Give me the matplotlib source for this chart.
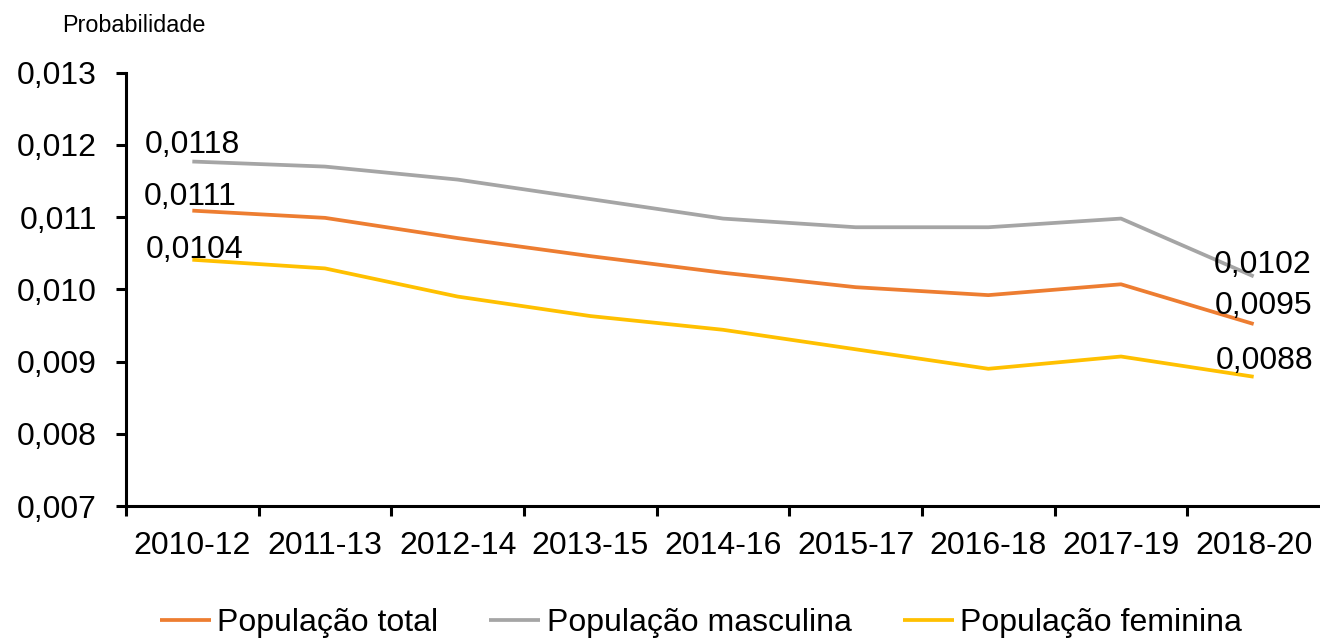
import matplotlib
matplotlib.use("Agg")
import matplotlib.pyplot as plt
from matplotlib.ticker import FixedLocator, FuncFormatter

plt.rcParams['font.family'] = ['Liberation Sans', 'DejaVu Sans']

categories = ["2010-12", "2011-13", "2012-14", "2013-15", "2014-16",
              "2015-17", "2016-18", "2017-19", "2018-20"]
total = [0.01109, 0.01099, 0.01071, 0.01046, 0.01023, 0.01003, 0.00992, 0.01007, 0.00952]
masculina = [0.01177, 0.01170, 0.01152, 0.01125, 0.01098, 0.01086, 0.01086, 0.01098, 0.01018]
feminina = [0.01041, 0.01029, 0.00990, 0.00963, 0.00944, 0.00917, 0.00890, 0.00907, 0.00879]
series_names = ["População total", "População masculina", "População feminina"]
label_total = ["0,0111", "0,0095"]
label_masc = ["0,0118", "0,0102"]
label_fem = ["0,0104", "0,0088"]
y_ticks = [0.007, 0.008, 0.009, 0.010, 0.011, 0.012, 0.013]

colors = ["#ED7D31", "#A5A5A5", "#FFC000"]
FS = 23

fig = plt.figure(figsize=(13.2, 6.39), dpi=100)
W, H = 1320, 639
ax = fig.add_axes([126 / W, 1 - 506 / H, 1 - 126 / W, (506 - 72.7) / H])

x = list(range(len(categories)))
lines = []
for vals, c, name in zip([total, masculina, feminina], colors, series_names):
    ln, = ax.plot(x, vals, color=c, lw=2.7, label=name, solid_capstyle='butt')
    lines.append(ln)

ax.set_xlim(-0.5, len(categories) - 0.5)
ax.set_ylim(y_ticks[0], y_ticks[-1])

# y axis
ax.set_yticks(y_ticks)
ax.yaxis.set_major_formatter(FuncFormatter(lambda v, p: f"{v:.3f}".replace('.', ',')))
ax.tick_params(axis='y', which='major', direction='out', length=7, width=2.2,
               labelsize=FS, pad=14)

# x axis: boundary ticks (major) and centered labels (minor)
ax.xaxis.set_major_locator(FixedLocator([i - 0.5 for i in range(len(categories))]))
ax.xaxis.set_major_formatter(FuncFormatter(lambda v, p: ""))
ax.xaxis.set_minor_locator(FixedLocator(x))
ax.set_xticklabels(categories, minor=True)
ax.tick_params(axis='x', which='major', direction='out', length=7, width=2.2)
ax.tick_params(axis='x', which='minor', length=0, labelsize=FS, pad=18)

for s in ['top', 'right']:
    ax.spines[s].set_visible(False)
for s in ['left', 'bottom']:
    ax.spines[s].set_linewidth(2.2)

# data labels
def lab(xi, v, txt, dx, dy):
    ax.annotate(txt, xy=(xi, v), xytext=(dx, dy), textcoords='offset pixels',
                ha='center', va='center', fontsize=FS, color='black')

n = len(categories) - 1
lab(0, masculina[0], label_masc[0], 0, 17)
lab(0, total[0], label_total[0], -2, 14)
lab(0, feminina[0], label_fem[0], 2, 10)
lab(n, masculina[n], label_masc[1], 9, 11)
lab(n, total[n], label_total[1], 10, 18)
lab(n, feminina[n], label_fem[1], 11, 16)

fig.text(62 / W, 1 - 25 / H, "Probabilidade", fontsize=16.8, ha='left', va='center')

fig.legend(handles=lines, loc='center', bbox_to_anchor=(0.531, 1 - 623 / H), ncol=3,
           frameon=False, fontsize=FS, handlelength=1.6, handletextpad=0.2,
           columnspacing=1.6, borderaxespad=0)

fig.savefig("out.png", dpi=100)
